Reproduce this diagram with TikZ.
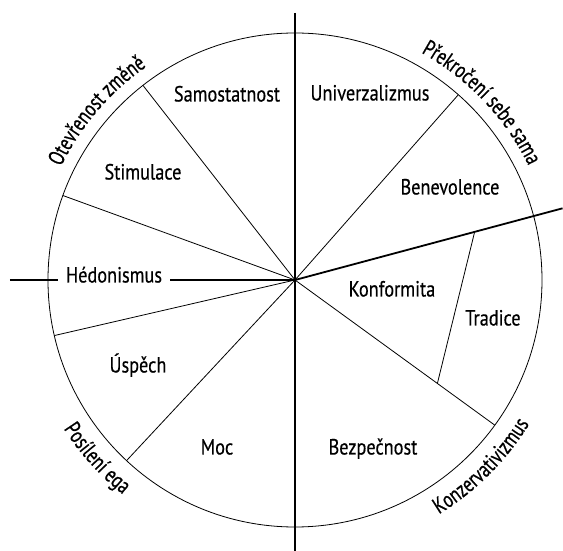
\documentclass[tikz,border=0pt]{standalone}
\usepackage{fontspec}
\setmainfont[FakeStretch=0.83,FakeBold=0.4]{PT Sans}
\newfontfamily\arcfam[FakeStretch=0.76,FakeBold=0.6]{PT Sans}
\usetikzlibrary{decorations.text}
\newcommand{\lblfont}{\fontsize{22}{26}\selectfont}
\newcommand{\arcfont}{\arcfam\fontsize{22.5}{26}\selectfont}
\begin{document}
\begin{tikzpicture}[x=1pt,y=1pt,
  thinline/.style={line width=0.8pt},
  thickline/.style={line width=1.8pt},
  seglabel/.style={font=\lblfont, anchor=mid, inner sep=0pt}]
\useasboundingbox (-295,-271) rectangle (268,280);
\coordinate (c) at (0,0);
% circle
\draw[thinline] (c) circle[radius=247];
% thin spokes
\coordinate (s1) at (128:247);
\coordinate (s2) at (160:247);
\coordinate (s3) at (193:247);
\coordinate (s4) at (227:247);
\coordinate (s5) at (48.6:247);
\coordinate (s6) at (-36:247);
\foreach \s in {s1,s2,s3,s4,s5,s6} \draw[thinline] (c) -- (\s);
% thick axes
\coordinate (top) at (0,267);
\coordinate (bot) at (0,-271);
\coordinate (right) at (15:277);
\coordinate (left) at (-285,0);
\draw[thickline] (top) -- (bot);
\draw[thickline] (c) -- (right);
% tradice boundary
\coordinate (t1) at (15:186);
\coordinate (t2) at (-36:176);
\draw[thinline] (t1) -- (t2);
% labels
\node[seglabel] (sam) at (-68,181) {Samostatnost};
\node[seglabel] (sti) at (-152,103) {Stimulace};
\node[seglabel, inner xsep=8pt] (hed) at (-181,0) {Hédonismus};
\node[seglabel] (usp) at (-157,-90) {Úspěch};
\node[seglabel] (moc) at (-78,-172) {Moc};
\node[seglabel] (uni) at (75,182) {Univerzalizmus};
\node[seglabel] (ben) at (155,88) {Benevolence};
\node[seglabel] (kon) at (97,-14) {Konformita};
\node[seglabel] (tra) at (198,-43) {Tradice};
\node[seglabel] (bez) at (78,-172) {Bezpečnost};
\draw[thickline] (left) -- (hed.mid west);
\draw[thickline] (hed.mid east) -- (c);
% curved labels
\path[decorate, decoration={text along path, text align=center,
  text={|\arcfont|Otevřenost změně}}]
  (169.5:260) arc[start angle=169.5, end angle=109.5, radius=260];
\path[decorate, decoration={text along path, text align=center,
  text={|\arcfont|Překročení sebe sama}}]
  (74:260) arc[start angle=74, end angle=13, radius=260];
\path[decorate, decoration={text along path, text align=center,
  text={|\arcfont|Posílení ega}}]
  (195:275) arc[start angle=195, end angle=249, radius=275];
\path[decorate, decoration={text along path, text align=center,
  text={|\arcfont|Konzervativizmus}}]
  (290:275) arc[start angle=290, end angle=340, radius=275];
\end{tikzpicture}
\end{document}
